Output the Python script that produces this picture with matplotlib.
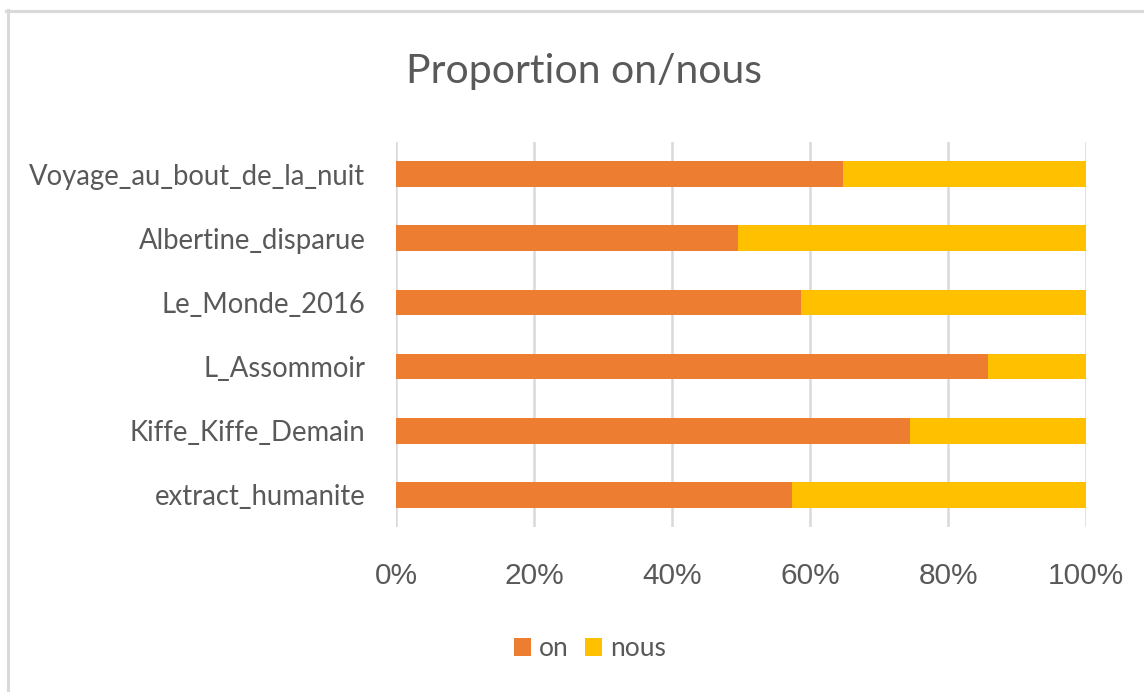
import matplotlib
matplotlib.use("Agg")
import matplotlib.pyplot as plt
from matplotlib.lines import Line2D
from matplotlib.ticker import PercentFormatter

# données (part de "on", en %)
books = ["Voyage_au_bout_de_la_nuit", "Albertine_disparue", "Le_Monde_2016",
         "L_Assommoir", "Kiffe_Kiffe_Demain", "extract_humanite"]
on_pct = [64.7, 49.5, 58.6, 85.8, 74.4, 57.3]
nous_pct = [100 - v for v in on_pct]

ORANGE = "#ED7D31"
YELLOW = "#FFC000"
GREY_TXT = "#595959"

W, H = 1144, 692
fig = plt.figure(figsize=(W / 100, H / 100), dpi=100)

# cadre gris du graphique Excel
fig.add_artist(Line2D([6 / W, 1], [1 - 10.5 / H, 1 - 10.5 / H], color="#d9d9d9", lw=2.2))
fig.add_artist(Line2D([7.5 / W, 7.5 / W], [0, 1 - 10 / H], color="#d9d9d9", lw=2.2))

ax = fig.add_axes([396 / W, 1 - 527 / H, (1086.3 - 396) / W, (527 - 142) / H])

y = list(range(len(books)))[::-1]
ax.barh(y, on_pct, height=0.40, color=ORANGE, label="on", zorder=3)
ax.barh(y, nous_pct, left=on_pct, height=0.40, color=YELLOW, label="nous", zorder=3)

ax.set_xlim(0, 100)
ax.set_ylim(-0.5, len(books) - 0.5)
ax.set_xticks([0, 20, 40, 60, 80, 100])
ax.xaxis.set_major_formatter(PercentFormatter(decimals=0))
ax.grid(axis="x", color="#d9d9d9", lw=1.8, zorder=0)
for s in ax.spines.values():
    s.set_visible(False)
ax.tick_params(length=0)
ax.tick_params(axis="x", pad=25, labelsize=21.5, labelcolor=GREY_TXT)
for t in ax.get_xticklabels():
    t.set_fontfamily("Liberation Sans")

ax.set_yticks(y)
ax.set_yticklabels(books, fontsize=19.8, color=GREY_TXT, family="Lato")
ax.tick_params(axis="y", pad=22)

fig.text(584 / W, 1 - 72 / H, "Proportion on/nous", ha="center", va="center",
         fontsize=29.5, color=GREY_TXT, family="Lato")

fig.legend(loc="center", bbox_to_anchor=(590 / W, 1 - 649 / H), ncol=2, frameon=False,
           prop={"family": "Lato", "size": 19}, labelcolor=GREY_TXT,
           handlelength=0.65, handleheight=0.65, handletextpad=0.3, columnspacing=0.6)

fig.savefig("out.png", dpi=100)
